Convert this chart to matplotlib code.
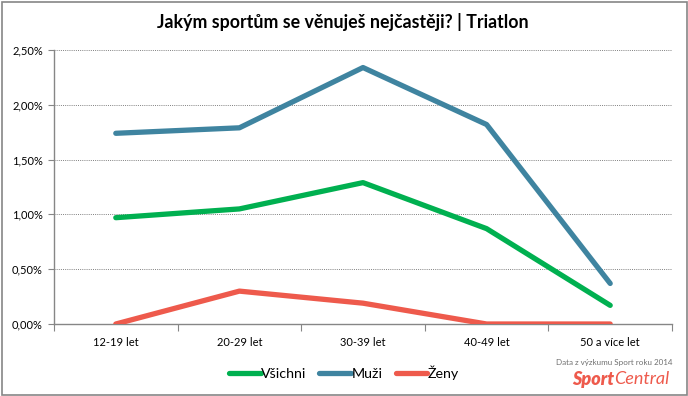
import matplotlib
matplotlib.use("Agg")
import matplotlib.pyplot as plt
from matplotlib.patches import Rectangle
from matplotlib.ticker import FuncFormatter

categories = ["12-19 let", "20-29 let", "30-39 let", "40-49 let", "50 a více let"]
vsichni = [0.97, 1.05, 1.29, 0.87, 0.17]
muzi = [1.74, 1.79, 2.34, 1.82, 0.37]
zeny = [0.00, 0.30, 0.19, 0.00, 0.00]
yticks = [0.0, 0.5, 1.0, 1.5, 2.0, 2.5]

plt.rcParams['font.family'] = ['Lato', 'DejaVu Sans']

W, H = 688, 396
fig = plt.figure(figsize=(W/100, H/100), dpi=100)
ax = fig.add_axes([54/W, (H-324)/H, (672-54)/W, (324-50)/H])

x = list(range(len(categories)))
lw = 3.8
ax.plot(x, vsichni, color="#00B050", lw=lw, solid_capstyle="round", label="Všichni", zorder=3)
ax.plot(x, muzi, color="#3F84A0", lw=lw, solid_capstyle="round", label="Muži", zorder=3)
ax.plot(x, zeny, color="#EE5A4C", lw=lw, solid_capstyle="round", label="Ženy", zorder=3)

ax.set_xlim(-0.5, len(categories)-0.5)
ax.set_ylim(0, 2.5)
ax.set_yticks(yticks)
ax.yaxis.set_major_formatter(FuncFormatter(lambda v, p: f"{v:.2f}%".replace(".", ",")))
ax.grid(axis="y", color="#808080", linestyle=(0, (1, 1.2)), lw=0.7)
ax.set_axisbelow(True)

ax.set_xticks([i - 0.5 for i in range(len(categories)+1)])
ax.set_xticklabels([])
ax.set_xticks(x, minor=True)
ax.set_xticklabels(categories, minor=True)
ax.tick_params(axis="x", which="major", length=5, color="#868686", direction="out")
ax.tick_params(axis="x", which="minor", length=0, pad=9, labelsize=8)
ax.tick_params(axis="y", length=4, color="#868686", labelsize=8, pad=4)

for s in ["top", "right"]:
    ax.spines[s].set_visible(False)
for s in ["left", "bottom"]:
    ax.spines[s].set_color("#868686")
    ax.spines[s].set_linewidth(1.0)

fig.text(343/W, 1-22/H, "Jakým sportům se věnuješ nejčastěji? | Triatlon",
         ha="center", va="center", fontsize=12.8, fontweight="bold")

leg = fig.legend(loc="center", bbox_to_anchor=(344/W, 1-373/H), ncol=3, frameon=False,
                 fontsize=10.3, handlelength=2.2, handletextpad=0.05, columnspacing=0.9)

fig.text(614/W, 1-362/H, "Data z výzkumu Sport roku 2014", ha="center", va="center",
         fontsize=5.8, color="#707070")
fig.text(614/W, 1-379/H, "Sport", ha="right", va="center", fontsize=13,
         color="#EE5A4C", fontweight="heavy", style="italic")
fig.text(614/W, 1-379/H, "Central", ha="left", va="center", fontsize=13,
         color="#EE5A4C", style="italic")

fig.patches.append(Rectangle((1.5/W, 1.5/H), (W-3)/W, (H-3)/H, transform=fig.transFigure,
                             fill=False, edgecolor="#868686", lw=1.2))

fig.savefig("out.png", dpi=100)
